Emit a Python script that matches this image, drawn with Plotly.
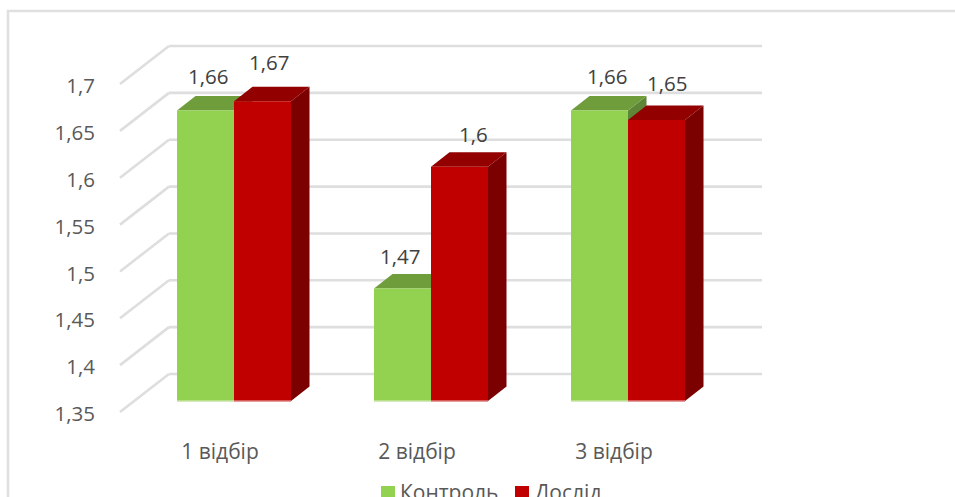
import plotly.graph_objects as go

CATEGORIES = ["1 відбір", "2 відбір", "3 відбір"]
CONTROL = [1.66, 1.47, 1.66]
TRIAL = [1.67, 1.60, 1.65]
Y_TICKS = [1.35, 1.4, 1.45, 1.5, 1.55, 1.6, 1.65, 1.7]
SERIES_NAMES = ["Контроль", "Дослід"]
SERIES_COLORS = ["#92D250", "#C00000"]

# Plot box and unit scales, in pixels
WIDTH, HEIGHT = 955, 497
LEFT, RIGHT, TOP, BOTTOM = 118, 764, 36, 420
PX_X = 197.0          # pixels per category
PX_Y = 937.0          # pixels per value unit
BASE = 1.35
BASE_PX = 401         # where the bar front faces stand
FLOOR_PX = 412        # front edge of the floor
FLOOR_LEFT, WALL_RIGHT = 120, 762

px_x = lambda p: p / PX_X
px_y = lambda p: p / PX_Y
data_x = lambda p: 1 + px_x(p - 234)

positions = [1, 2, 3]
x_range = [data_x(LEFT), data_x(RIGHT)]
y_range = [BASE - px_y(BOTTOM - BASE_PX), BASE + px_y(BASE_PX - TOP)]

bar_w = px_x(57)
floor_lift = px_y(FLOOR_PX - BASE_PX)   # the floor's front edge sits below the bar plane
wall_dx, wall_dy = px_x(49), px_y(38)   # depth of the floor
bar_dx, bar_dy = px_x(18.5), px_y(14.5) # depth of a bar

GRID = "#DEDEDE"
shapes = []


def polygon(points, color, layer="below"):
    path = "M" + " L".join(f"{x},{y}" for x, y in points) + " Z"
    shapes.append(dict(type="path", path=path, xref="x", yref="y", layer=layer,
                       fillcolor=color, line=dict(width=0)))


# Outer frame of the chart, running off the page on the right and at the bottom
to_paper_x = lambda p: (p - LEFT) / (RIGHT - LEFT)
to_paper_y = lambda p: (BOTTOM - p) / (BOTTOM - TOP)
shapes.append(dict(type="rect", xref="paper", yref="paper", layer="below",
                   x0=to_paper_x(8), x1=to_paper_x(1000),
                   y0=to_paper_y(560), y1=to_paper_y(11),
                   fillcolor="white", line=dict(color="#E0E0E0", width=2.5)))

# Gridlines fold from the floor's front edge to the back wall
for t in Y_TICKS:
    front_y = t - floor_lift
    back_y = front_y + wall_dy
    front_x = data_x(FLOOR_LEFT)
    back_x = front_x + wall_dx
    shapes.append(dict(type="line", xref="x", yref="y", layer="below",
                       x0=front_x, y0=front_y, x1=back_x, y1=back_y,
                       line=dict(color=GRID, width=2.6)))
    shapes.append(dict(type="line", xref="x", yref="y", layer="below",
                       x0=back_x, y0=back_y, x1=data_x(WALL_RIGHT), y1=back_y,
                       line=dict(color=GRID, width=2.6)))

# Side and top faces lie under the front faces, left series first
for values, shift, side, top, edge in [
    (CONTROL, -bar_w, "#5F8636", "#6F9D3C", "#C6E3A2"),
    (TRIAL, 0, "#7B0000", "#920000", "#DE7A7A"),
]:
    for pos, v in zip(positions, values):
        x0 = pos + shift
        x1 = x0 + bar_w
        polygon([(x1, BASE), (x1 + bar_dx, BASE + bar_dy),
                 (x1 + bar_dx, v + bar_dy), (x1, v)], side)
        polygon([(x0, v), (x1, v), (x1 + bar_dx, v + bar_dy),
                 (x0 + bar_dx, v + bar_dy)], top)
        shapes.append(dict(type="line", xref="x", yref="y", layer="above",
                           x0=x0, x1=x1, y0=BASE, y1=BASE,
                           line=dict(color=edge, width=1.5)))

fig = go.Figure()
for name, values, color in zip(SERIES_NAMES, [CONTROL, TRIAL], SERIES_COLORS):
    fig.add_bar(x=positions, y=[v - BASE for v in values], base=BASE, name=name,
                marker=dict(color=color, line=dict(width=0)), showlegend=False,
                customdata=values, hovertemplate="%{customdata}<extra>" + name + "</extra>")

# Value labels, nudged individually in pixels as they were placed by hand
label_shift = {
    "control": [(2, 35), (-3, 33), (7, 35)],
    "trial": [(6, 39), (14, 33), (10, 37)],
}
annotations = []
for values, offset, key in [(CONTROL, -bar_w / 2, "control"), (TRIAL, bar_w / 2, "trial")]:
    for pos, v, (dx, dy) in zip(positions, values, label_shift[key]):
        annotations.append(dict(x=pos + offset, y=v, xref="x", yref="y",
                                text=f"{v:g}".replace(".", ","), showarrow=False,
                                xshift=dx, yshift=dy, xanchor="center", yanchor="middle",
                                font=dict(family="Open Sans", size=20.5, color="#404040")))

# Legend row along the bottom edge: a swatch, then its series name
for name, color, swatch_px, text_px in zip(SERIES_NAMES, SERIES_COLORS, [381, 515], [398, 533]):
    shapes.append(dict(type="rect", xref="paper", yref="paper", layer="above",
                       x0=to_paper_x(swatch_px), x1=to_paper_x(swatch_px + 14),
                       y0=to_paper_y(500), y1=to_paper_y(486),
                       fillcolor=color, line=dict(width=0)))
    annotations.append(dict(x=to_paper_x(text_px), y=to_paper_y(492), xref="paper", yref="paper",
                            text=name, showarrow=False, xanchor="left", yanchor="middle",
                            font=dict(family="Open Sans", size=21, color="#595959")))

fig.update_layout(
    width=WIDTH, height=HEIGHT,
    margin=dict(l=LEFT, r=WIDTH - RIGHT, t=TOP, b=HEIGHT - BOTTOM, pad=0, autoexpand=False),
    paper_bgcolor="white", plot_bgcolor="rgba(0,0,0,0)",
    barmode="group", bargap=1 - 2 * bar_w, bargroupgap=0,
    separators=", ", showlegend=False,
    font=dict(family="Open Sans", size=20.5, color="#595959"),
    shapes=shapes, annotations=annotations,
    xaxis=dict(range=x_range, tickvals=[p - px_x(14) for p in positions], ticktext=CATEGORIES,
               showgrid=False, zeroline=False, showline=False, ticks="", ticklabelstandoff=17,
               tickfont=dict(size=21), fixedrange=True),
    yaxis=dict(range=y_range, tickvals=[t - floor_lift - px_y(2) for t in Y_TICKS],
               ticktext=[f"{t:g}".replace(".", ",") for t in Y_TICKS],
               showgrid=False, zeroline=False, showline=False, ticks="", ticklabelstandoff=22,
               fixedrange=True),
)

fig.write_html("out.html", config={"displayModeBar": False})
